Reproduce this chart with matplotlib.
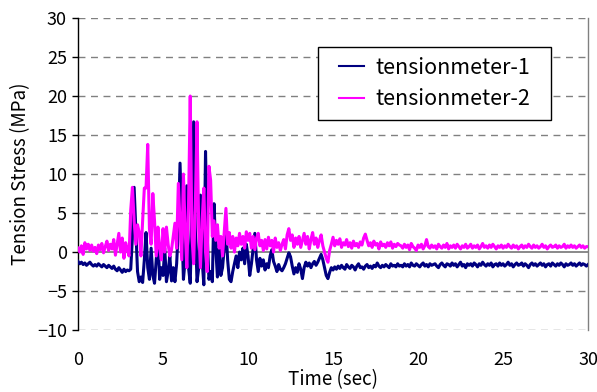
import numpy as np
import matplotlib
matplotlib.use("Agg")
import matplotlib.pyplot as plt
from matplotlib.patches import Rectangle

plt.rcParams['font.family'] = ['Noto Sans CJK JP', 'DejaVu Sans']

# Sampling time (0.1 s step, 0 .. 30 s)
time_sec = np.round(np.arange(0, 301) * 0.1, 1)

# tensionmeter-1 readings (MPa), one row per second
tension_1 = [
    -1.2, -1.5, -1.3, -1.6, -1.4, -1.7, -1.5, -1.3, -1.6, -1.8,
    -1.6, -1.8, -1.5, -1.7, -1.9, -1.6, -1.8, -2.0, -1.7, -1.9,
    -2.1, -1.8, -2.2, -2.4, -2.0, -2.3, -2.6, -2.2, -2.5, -2.3,
    -2.4, -2.2, 2.0, 8.3, 3.0, -2.5, -3.8, -3.2, -3.9, -1.0,
    2.5, -2.0, -3.5, 0.5, -3.0, -4.0, -1.0, 1.8, -3.5, -2.0,
    -3.0, 0.5, -3.8, -2.5, -0.5, -3.7, -2.0, -3.8, -1.5, 3.0,
    11.4, 4.0, -3.5, -1.0, 8.5, -2.0, -4.0, 5.0, 16.7, 3.0,
    -3.8, -2.0, 7.3, -1.0, -4.2, 12.9, 2.0, -3.5, -2.5, -3.8,
    6.2, 0.5, -3.2, 1.5, -3.0, -2.0, 0.5, 3.2, -1.0, -3.5,
    -3.8, -2.5, -1.5, -0.5, -2.0, 0.0, -1.0, 0.5, -1.5, 1.0,
    -0.5, -3.0, -1.5, 0.5, 2.4, -1.0, -2.5, -0.8, -1.8, -1.0,
    -2.3, -1.5, -2.0, -0.5, 0.3, -1.2, -1.8, -2.5, -1.6, -2.2,
    -2.4, -2.0, -1.5, -0.8, -0.1, -0.6, -1.8, -2.8, -2.0, -2.6,
    -1.5, -2.2, -3.4, -2.0, -1.3, -1.8, -1.4, -2.0, -1.5, -1.2,
    -1.7, -1.3, -0.8, -0.3, -1.0, -2.0, -3.0, -3.4, -2.6, -2.0,
    -2.3, -1.9, -2.2, -1.8, -2.1, -1.7, -2.0, -2.2, -1.6, -1.9,
    -2.1, -1.7, -1.9, -2.3, -1.8, -1.5, -2.0, -1.9, -2.2, -1.8,
    -1.6, -2.0, -1.8, -2.1, -1.7, -1.9, -1.4, -1.8, -2.0, -1.7,
    -1.9, -1.6, -1.8, -2.0, -1.5, -1.8, -1.7, -1.9, -1.5, -1.8,
    -1.7, -1.9, -1.5, -1.8, -1.6, -1.9, -1.4, -1.7, -1.8, -1.5,
    -1.7, -1.9, -1.6, -1.4, -1.8, -1.6, -1.9, -1.5, -1.7, -1.6,
    -1.5, -1.8, -2.0, -1.6, -1.4, -1.7, -1.9, -1.5, -1.6, -1.8,
    -1.4, -1.7, -1.5, -1.9, -1.6, -1.3, -1.8, -1.6, -2.0, -1.5,
    -1.7, -1.5, -1.8, -1.4, -1.6, -1.9, -1.5, -1.7, -1.3, -1.6,
    -1.8, -1.5, -1.7, -1.4, -1.9, -1.6, -1.5, -1.8, -1.4, -1.7,
    -1.5, -1.8, -1.6, -1.3, -1.7, -1.5, -1.9, -1.6, -1.4, -1.7,
    -1.6, -1.4, -1.8, -1.5, -1.7, -2.0, -1.6, -1.4, -1.7, -1.5,
    -1.8, -1.6, -1.4, -1.7, -1.5, -1.9, -1.6, -1.5, -1.8, -1.4,
    -1.6, -1.8, -1.5, -1.7, -1.4, -1.6, -1.9, -1.5, -1.7, -1.6,
    -1.4, -1.7, -1.5, -1.8, -1.6, -1.4, -1.7, -1.5, -1.6, -1.8,
    -1.6,
]

# tensionmeter-2 readings (MPa), one row per second
tension_2 = [
    0.5, 0.0, 0.8, -0.3, 1.2, 0.4, 1.0, 0.2, 0.9, 0.1,
    0.6, -0.2, 0.9, 0.3, 1.1, -0.1, 0.7, 1.4, 0.2, 1.0,
    0.4, 1.6, -0.4, 1.0, 2.4, 0.0, 1.8, -0.8, 1.2, 0.3,
    -0.5, 5.4, 8.3, 4.0, 1.0, 3.5, 2.5, -0.5, 4.0, 8.2,
    8.2, 13.8, 3.0, 1.0, 7.5, 4.0, -0.5, 3.2, 0.5, -1.0,
    3.0, 0.0, 3.2, 1.0, -0.5, 0.3, 2.0, 3.7, 0.5, 8.8,
    4.0, -1.0, 10.0, 3.0, -2.0, 6.0, 20.0, 2.0, -1.5, 6.0,
    16.7, 3.0, -2.0, 4.0, 8.2, 0.0, -2.5, 11.0, 9.2, 2.0,
    4.0, 1.5, 3.5, 0.5, 2.0, -0.5, 2.5, 5.6, 1.0, 2.5,
    0.5, 2.0, 0.0, 1.8, 0.8, 2.4, 1.0, 2.0, 0.5, 2.6,
    1.5, 2.4, 0.5, 2.0, 0.3, 1.8, 2.4, 0.8, 1.5, 0.2,
    1.6, 0.4, 1.9, 0.8, 1.5, 0.0, 1.8, 0.6, 1.2, 0.2,
    1.0, 1.6, 0.4, 2.2, 3.0, 1.5, 2.2, 0.6, 1.8, 1.0,
    2.0, 0.6, 1.5, 2.4, 1.0, 2.0, 0.4, 1.6, 2.5, 1.0,
    1.8, 0.6, 1.5, 2.2, 0.8, 0.0, -0.8, -1.3, 0.2, 1.0,
    1.9, 0.8, 1.5, 1.0, 1.7, 0.6, 1.2, 0.9, 1.6, 0.7,
    1.2, 0.5, 1.4, 0.8, 1.1, 0.6, 1.3, 0.9, 1.8, 2.3,
    1.5, 0.8, 1.2, 0.6, 1.4, 0.9, 1.1, 0.4, 1.3, 0.8,
    1.0, 0.6, 1.2, 0.8, 1.3, 0.5, 1.0, 0.7, 1.1, 0.9,
    0.8, 0.5, 1.0, 0.6, 0.9, 0.3, 1.1, 0.7, 0.5, 0.2,
    0.9, 0.6, 1.0, 0.4, 0.8, 1.6, 0.7, 0.5, 0.9, 0.6,
    0.8, 0.4, 1.0, 0.7, 0.5, 0.9, 0.6, 1.1, 0.4, 0.8,
    0.6, 0.9, 0.5, 1.0, 0.7, 0.4, 0.8, 0.6, 1.0, 0.5,
    0.7, 1.0, 0.5, 0.8, 0.6, 0.9, 0.4, 0.7, 1.1, 0.6,
    0.8, 0.5, 0.9, 0.6, 1.0, 0.7, 0.4, 0.8, 0.6, 0.9,
    0.5, 0.8, 0.6, 1.0, 0.7, 0.5, 0.9, 0.6, 0.8, 0.4,
    0.7, 0.9, 0.5, 0.8, 0.6, 1.0, 0.7, 0.5, 0.9, 0.6,
    0.8, 0.5, 0.7, 1.0, 0.6, 0.8, 0.4, 0.7, 0.9, 0.6,
    0.7, 0.9, 0.5, 0.8, 0.6, 0.7, 1.0, 0.5, 0.8, 0.6,
    0.9, 0.6, 0.8, 0.5, 0.7, 0.9, 0.6, 0.8, 0.5, 0.7,
    0.7,
]

series_labels = ["tensionmeter-1", "tensionmeter-2"]
series_colors = ["#000080", "#FF00FF"]
x_ticks = [0, 5, 10, 15, 20, 25, 30]
y_ticks = [-10, -5, 0, 5, 10, 15, 20, 25, 30]

fig = plt.figure(figsize=(5.97, 3.92), dpi=100)
ax = fig.add_axes([0.1307, 0.158, 0.8543, 0.796])

# dashed horizontal gridlines, solid gray category axis at zero
for yv in y_ticks:
    if yv == 0:
        ax.axhline(yv, color="#808080", lw=1.3, zorder=1)
    else:
        ax.axhline(yv, color="#808080", lw=1.0, ls=(0, (5, 4)), zorder=1)

for vals, lab, col in zip([tension_1, tension_2], series_labels, series_colors):
    ax.plot(time_sec, vals, color=col, lw=2.2, label=lab, zorder=3)

ax.set_xlim(0, 30)
ax.set_ylim(-10, 30)
ax.set_xticks(x_ticks)
ax.set_yticks(y_ticks)
ax.tick_params(axis="x", length=0, pad=15, labelsize=13)
ax.tick_params(axis="y", length=4, direction="out", width=1, pad=4, labelsize=13)

for side in ("top", "bottom"):
    ax.spines[side].set_visible(False)
ax.spines["left"].set_color("black")
ax.spines["left"].set_linewidth(1.0)
ax.spines["right"].set_color("#808080")
ax.spines["right"].set_linewidth(1.0)

ax.set_xlabel("Time (sec)", fontsize=13.5, labelpad=0)
ax.set_ylabel("Tension Stress (MPa)", fontsize=13.5, labelpad=4)

# legend box: white panel with black border, entries centred inside it
box = (0.47, 0.673, 0.457, 0.234)
ax.add_patch(Rectangle(box[:2], box[2], box[3], transform=ax.transAxes,
                       facecolor="white", edgecolor="black", lw=1.0,
                       zorder=4, clip_on=False))
leg = ax.legend(loc="center",
                bbox_to_anchor=(box[0] + box[2] / 2, box[1] + box[3] / 2),
                bbox_transform=ax.transAxes,
                fontsize=15.5, frameon=False, handlelength=1.2,
                handletextpad=0.5, borderaxespad=0, borderpad=0.0,
                labelspacing=0.45)
leg.set_zorder(5)
for h in leg.get_lines():
    h.set_linewidth(1.5)

fig.savefig("out.png", dpi=100)
